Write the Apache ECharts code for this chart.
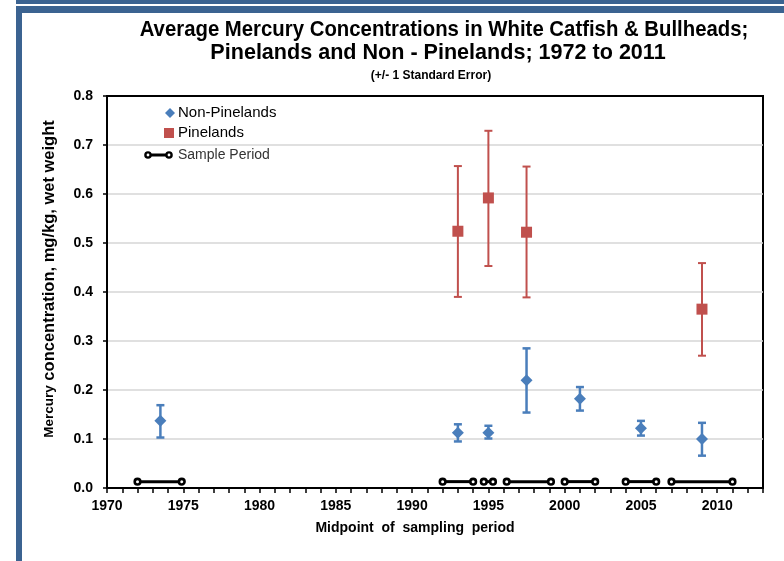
<!DOCTYPE html>
<html>
<head>
<meta charset="utf-8">
<script src="https://cdn.jsdelivr.net/npm/echarts@6/dist/echarts.min.js"></script>
<style>
html,body{margin:0;padding:0;background:#fff;}
#chart{width:784px;height:561px;}
</style>
</head>
<body>
<div id="chart"></div>
<script>
// ---- data ----
const titleLines = ['Average Mercury Concentrations in White Catfish & Bullheads;', 'Pinelands and Non - Pinelands; 1972 to 2011'];
const subtitleText = '(+/- 1 Standard Error)';
const xTitle = 'Midpoint  of  sampling  period';
const yTitleA = 'Mercury';
const yTitleB = ' concentration, mg/kg, wet weight';

const nonPinelandsYears = [1973.5, 1993, 1995, 1997.5, 2001, 2005, 2009];
const nonPinelandsMean  = [0.137, 0.113, 0.113, 0.220, 0.182, 0.122, 0.100];
const nonPinelandsLow   = [0.103, 0.095, 0.101, 0.154, 0.158, 0.107, 0.066];
const nonPinelandsHigh  = [0.169, 0.130, 0.127, 0.285, 0.206, 0.137, 0.133];

const pinelandsYears = [1993, 1995, 1997.5, 2009];
const pinelandsMean  = [0.524, 0.592, 0.522, 0.365];
const pinelandsLow   = [0.390, 0.453, 0.389, 0.270];
const pinelandsHigh  = [0.657, 0.729, 0.656, 0.459];

const periodStart = [1972, 1992, 1994.7, 1996.2, 2000, 2004, 2007];
const periodEnd   = [1974.9, 1994, 1995.3, 1999.1, 2002, 2006, 2011];
const periodLevel = [0.013, 0.013, 0.013, 0.013, 0.013, 0.013, 0.013];

const legendNames = ['Non-Pinelands', 'Pinelands', 'Sample Period'];

// ---- build ----
const BLUE = '#4A7EBB', RED = '#C0504D', FRAME = '#3B6391';

function errData(xs, lo, hi){ return xs.map((x,i)=>[x, lo[i], hi[i]]); }
function errRender(color, lw){
  return function(params, api){
    const x = api.value(0);
    const p1 = api.coord([x, api.value(1)]);
    const p2 = api.coord([x, api.value(2)]);
    const cw = 4;
    const st = {stroke: color, lineWidth: lw};
    return {type:'group', children:[
      {type:'line', shape:{x1:p1[0],y1:p1[1],x2:p2[0],y2:p2[1]}, style:st},
      {type:'line', shape:{x1:p1[0]-cw,y1:p1[1],x2:p1[0]+cw,y2:p1[1]}, style:st},
      {type:'line', shape:{x1:p2[0]-cw,y1:p2[1],x2:p2[0]+cw,y2:p2[1]}, style:st}
    ]};
  };
}
function periodRender(params, api){
  const a = api.coord([api.value(0), api.value(2)]);
  const b = api.coord([api.value(1), api.value(2)]);
  const cs = {fill:'#fff', stroke:'#000', lineWidth:2.6};
  return {type:'group', children:[
    {type:'line', shape:{x1:a[0],y1:a[1],x2:b[0],y2:b[1]}, style:{stroke:'#000', lineWidth:3}},
    {type:'circle', shape:{cx:a[0],cy:a[1],r:2.8}, style:cs},
    {type:'circle', shape:{cx:b[0],cy:b[1],r:2.8}, style:cs}
  ]};
}

const chart = echarts.init(document.getElementById('chart'), null, {renderer:'canvas'});
const titleFont = {fontFamily:'Liberation Sans', fontWeight:'bold', fontSize:22, fill:'#000', align:'center', verticalAlign:'middle'};
const option = {
  backgroundColor:'#fff',
  animation:false,
  grid:{left:107, right:21, top:96, bottom:73, show:true, borderColor:'#000', borderWidth:2, backgroundColor:'transparent'},
  xAxis:{
    type:'value', min:1970, max:2013, interval:1,
    axisLine:{lineStyle:{color:'#000', width:2}},
    axisTick:{show:true, length:5, lineStyle:{color:'#000', width:1.5}},
    axisLabel:{margin:11, color:'#000', fontWeight:'bold', fontSize:14, fontFamily:'Liberation Sans',
      formatter:v=> (v%5===0 && v<=2010) ? String(v) : ''},
    splitLine:{show:false}
  },
  yAxis:{
    type:'value', min:0, max:0.8, interval:0.1,
    axisLine:{show:true, lineStyle:{color:'#000', width:2}},
    axisTick:{show:true, length:4, lineStyle:{color:'#000', width:1.5}},
    axisLabel:{margin:14, color:'#000', fontWeight:'bold', fontSize:14, fontFamily:'Liberation Sans',
      formatter:v=>v.toFixed(1)},
    splitLine:{show:true, showMaxLine:false, showMinLine:false, lineStyle:{color:'#D6D6D6', width:1.5}}
  },
  series:[
    {name:'Pinelands err', type:'custom', renderItem:errRender(RED, 2), data:errData(pinelandsYears, pinelandsLow, pinelandsHigh), z:3, silent:true},
    {name:'Non-Pinelands err', type:'custom', renderItem:errRender(BLUE, 2.5), data:errData(nonPinelandsYears, nonPinelandsLow, nonPinelandsHigh), z:3, silent:true},
    {name:'Sample Period', type:'custom', renderItem:periodRender,
      data:periodStart.map((s,i)=>[s, periodEnd[i], periodLevel[i]]), z:4, silent:true},
    {name:'Pinelands', type:'scatter', symbol:'rect', symbolSize:11, itemStyle:{color:RED, opacity:1},
      data:pinelandsYears.map((x,i)=>[x, pinelandsMean[i]]), z:5},
    {name:'Non-Pinelands', type:'scatter', symbol:'diamond', symbolSize:[12,12], itemStyle:{color:BLUE, opacity:1},
      data:nonPinelandsYears.map((x,i)=>[x, nonPinelandsMean[i]]), z:5}
  ],
  graphic:[
    // frame
    {type:'rect', shape:{x:16, y:0, width:768, height:4}, style:{fill:FRAME}, silent:true},
    {type:'rect', shape:{x:16, y:6, width:768, height:7}, style:{fill:FRAME}, silent:true},
    {type:'rect', shape:{x:16, y:6, width:6, height:555}, style:{fill:FRAME}, silent:true},
    // titles
    {type:'text', x:444, y:30, scaleX:0.925, style:Object.assign({text:titleLines[0]}, titleFont)},
    {type:'text', x:438, y:53, scaleX:0.98, style:Object.assign({text:titleLines[1]}, titleFont)},
    {type:'text', x:431, y:76, style:{text:subtitleText, fontFamily:'Liberation Sans', fontWeight:'bold', fontSize:12, fill:'#000', align:'center', verticalAlign:'middle'}},
    // axis titles
    {type:'text', x:415, y:528, style:{text:xTitle, fontFamily:'Liberation Sans', fontWeight:'bold', fontSize:14, fill:'#000', align:'center', verticalAlign:'middle'}},
    {type:'text', x:49, y:279, rotation:Math.PI/2,
      style:{text:'{a|'+yTitleA+'}{b|'+yTitleB+'}', align:'center', verticalAlign:'middle',
        rich:{a:{fontFamily:'Liberation Sans', fontWeight:'bold', fontSize:13.5, fill:'#000'},
              b:{fontFamily:'Liberation Sans', fontWeight:'bold', fontSize:16.5, fill:'#000'}}}},
    // legend
    {type:'polygon', shape:{points:[[170,108],[175,113],[170,118],[165,113]]}, style:{fill:BLUE}},
    {type:'text', x:178, y:113, style:{text:legendNames[0], fontFamily:'Liberation Sans', fontSize:15, fill:'#000', verticalAlign:'middle'}},
    {type:'rect', shape:{x:164, y:128, width:10, height:10}, style:{fill:RED}},
    {type:'text', x:178, y:133, style:{text:legendNames[1], fontFamily:'Liberation Sans', fontSize:15, fill:'#000', verticalAlign:'middle'}},
    {type:'line', shape:{x1:148, y1:155, x2:169, y2:155}, style:{stroke:'#000', lineWidth:3}},
    {type:'circle', shape:{cx:148, cy:155, r:2.6}, style:{fill:'#fff', stroke:'#000', lineWidth:2.4}},
    {type:'circle', shape:{cx:169, cy:155, r:2.6}, style:{fill:'#fff', stroke:'#000', lineWidth:2.4}},
    {type:'text', x:178, y:155, style:{text:legendNames[2], fontFamily:'Liberation Sans', fontSize:14, fill:'#333', verticalAlign:'middle'}}
  ]
};
chart.setOption(option);
</script>
</body>
</html>
